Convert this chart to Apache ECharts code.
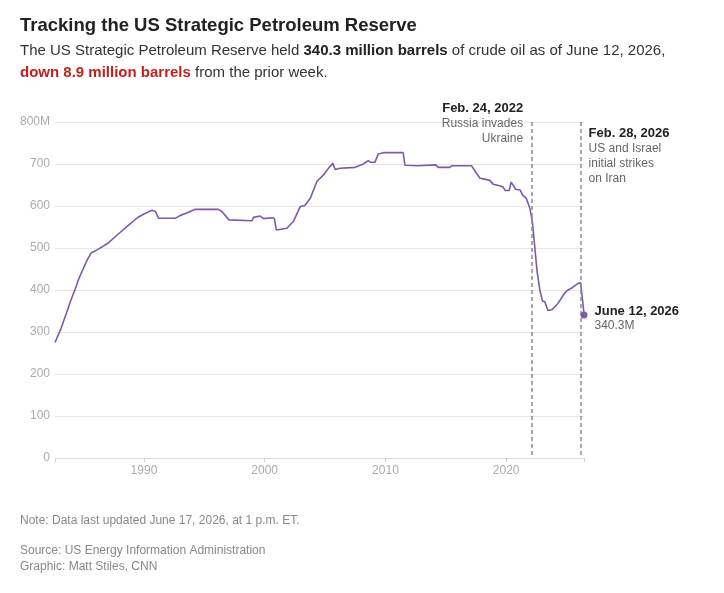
<!DOCTYPE html>
<html>
<head>
<meta charset="utf-8">
<script src="https://cdn.jsdelivr.net/npm/echarts@6/dist/echarts.min.js"></script>
<style>
  html, body { margin: 0; padding: 0; background: #fff; }
  #chart { width: 724px; height: 593px; }
</style>
</head>
<body>
<div id="chart"></div>
<script>
// values (million barrels)
const dates = [
  "1982-08-20", "1983-02-01", "1983-09-01", "1983-12-15", "1984-05-01", "1984-08-15",
  "1985-01-15", "1985-04-15", "1985-08-15", "1986-02-01", "1986-12-15", "1987-10-15",
  "1988-08-01", "1989-06-15", "1990-01-01", "1990-09-01", "1990-12-15", "1991-03-15",
  "1992-08-15", "1992-12-01", "1993-03-01", "1993-08-01", "1994-04-01", "1996-03-01",
  "1996-06-15", "1997-01-15", "1998-12-15", "1999-02-01", "1999-08-15", "1999-12-01",
  "2000-08-01", "2000-10-15", "2000-12-20", "2001-11-01", "2002-05-15", "2002-12-15",
  "2003-05-01", "2003-10-15", "2004-05-01", "2004-11-15", "2005-04-15", "2005-08-20",
  "2005-11-01", "2006-04-01", "2007-07-01", "2008-03-01", "2008-08-01", "2008-10-15",
  "2009-02-15", "2009-06-01", "2009-11-01", "2011-06-20", "2011-08-15", "2012-09-01",
  "2014-03-01", "2014-05-15", "2015-05-01", "2015-07-01", "2017-02-15", "2017-07-15",
  "2017-11-01", "2018-03-15", "2018-08-20", "2018-12-01", "2019-06-15", "2019-10-01",
  "2019-12-01", "2020-04-01", "2020-06-01", "2020-10-15", "2021-03-01", "2021-05-15",
  "2021-09-01", "2021-12-15", "2022-02-25", "2022-05-15", "2022-07-20", "2022-10-15",
  "2023-01-01", "2023-03-15", "2023-06-15", "2023-10-15", "2024-04-15", "2024-11-15",
  "2025-02-15", "2025-07-01", "2025-12-15", "2026-02-27", "2026-03-06", "2026-04-17",
  "2026-06-05", "2026-06-12"
];
const reserve = [
  275, 305, 352, 376, 404, 428,
  455, 471, 488, 495, 510, 531,
  551, 572, 581, 590, 587, 571,
  571, 576, 579, 584, 592, 592,
  587, 567, 565, 573, 576, 570,
  572, 571, 543, 547, 563, 599,
  601, 619, 659, 674, 690, 702,
  687, 690, 692, 700, 708, 704,
  704, 724, 727, 727, 697, 696,
  698, 692, 692, 696, 696, 678,
  666, 664, 661, 652, 648, 645,
  637, 637, 657, 640, 638, 626,
  618, 595, 567, 503, 447, 400,
  374, 372, 351, 353, 368, 394,
  400, 406, 416, 417, 415, 385,
  349.2, 340.3
];
const yearTicks = ["1990-01-01", "2000-01-01", "2010-01-01", "2020-01-01"];
const eventDates = ["2022-02-24", "2026-02-28"];
const eventTitles = ["Feb. 24, 2022", "Feb. 28, 2026"];
const eventNotes = ["Russia invades\nUkraine", "US and Israel\ninitial strikes\non Iran"];

const font = "'Liberation Sans', Arial, sans-serif";
const purple = "#7b5aa6";
const lastIdx = dates.length - 1;
const ts = (d) => +new Date(d);

const chart = echarts.init(document.getElementById("chart"));

const noteLabel = (title, note) =>
  "{t|" + title + "}\n{n|" + note.split("\n").join("}\n{n|") + "}";

const option = {
  backgroundColor: "#ffffff",
  textStyle: { fontFamily: font },
  animation: false,
  title: [
    {
      text: "Tracking the US Strategic Petroleum Reserve",
      left: 20,
      top: 16,
      padding: 0,
      textStyle: { fontFamily: font, fontSize: 18.5, fontWeight: "bold", color: "#222" },
    },
    {
      text:
        "The US Strategic Petroleum Reserve held {b|340.3 million barrels} of crude oil as of June 12, 2026,\n" +
        "{r|down 8.9 million barrels} from the prior week.",
      left: 20,
      top: 40,
      padding: 0,
      textStyle: {
        fontFamily: font,
        fontSize: 15,
        fontWeight: "normal",
        color: "#333",
        lineHeight: 22,
        rich: {
          b: { fontFamily: font, fontSize: 15, fontWeight: "bold", color: "#222", lineHeight: 22 },
          r: { fontFamily: font, fontSize: 15, fontWeight: "bold", color: "#c0201f", lineHeight: 22 },
        },
      },
    },
    {
      text: "Note: Data last updated June 17, 2026, at 1 p.m. ET.",
      left: 20,
      top: 515,
      padding: 0,
      textStyle: { fontFamily: font, fontSize: 12, fontWeight: "normal", color: "#888" },
    },
    {
      text: "Source: US Energy Information Administration\nGraphic: Matt Stiles, CNN",
      left: 20,
      top: 543,
      padding: 0,
      textStyle: { fontFamily: font, fontSize: 12, fontWeight: "normal", color: "#888", lineHeight: 16 },
    },
  ],
  grid: { left: 55, right: 140, top: 122, bottom: 135 },
  xAxis: {
    type: "value",
    min: ts(dates[0]),
    max: ts(dates[lastIdx]),
    axisLine: { show: true, onZero: false, lineStyle: { color: "#dcdcdc", width: 1 } },
    axisTick: {
      show: true,
      length: 4,
      lineStyle: { color: "#cfcfcf" },
      customValues: [dates[0]].concat(yearTicks, [dates[lastIdx]]).map(ts),
    },
    axisLabel: {
      color: "#aaa",
      fontSize: 12,
      fontFamily: font,
      margin: 7,
      customValues: yearTicks.map(ts),
      formatter: (v) => String(new Date(v).getFullYear()),
    },
    splitLine: { show: false },
  },
  yAxis: {
    type: "value",
    min: 0,
    max: 800,
    interval: 100,
    axisLine: { show: false },
    axisTick: { show: false },
    axisLabel: {
      color: "#aaa",
      fontSize: 12,
      fontFamily: font,
      margin: 5,
      formatter: (v) => (v === 800 ? "800M" : String(v)),
    },
    splitLine: { lineStyle: { color: "#e6e6e6", width: 1 } },
  },
  series: [
    {
      type: "line",
      data: dates.map((d, i) => [ts(d), reserve[i]]),
      showSymbol: false,
      lineStyle: { color: purple, width: 1.6 },
      itemStyle: { color: purple },
      markLine: {
        silent: true,
        symbol: "none",
        lineStyle: { color: "#8c8c8c", width: 1.5, type: [4, 3] },
        label: { show: false },
        data: eventDates.map((d) => [{ coord: [ts(d), 800] }, { coord: [ts(d), 6] }]),
      },
      markPoint: {
        silent: true,
        data: [
          {
            coord: [ts(eventDates[0]), 800],
            symbol: "circle",
            symbolSize: 0,
            label: {
              show: true,
              position: [-9, -21],
              align: "right",
              verticalAlign: "top",
              formatter: noteLabel(eventTitles[0], eventNotes[0]),
              rich: {
                t: { fontFamily: font, fontSize: 13, fontWeight: "bold", color: "#222", lineHeight: 15, align: "right" },
                n: { fontFamily: font, fontSize: 12, color: "#666", lineHeight: 15, align: "right" },
              },
            },
          },
          {
            coord: [ts(eventDates[1]), 800],
            symbol: "circle",
            symbolSize: 0,
            label: {
              show: true,
              position: [8, 4],
              align: "left",
              verticalAlign: "top",
              formatter: noteLabel(eventTitles[1], eventNotes[1]),
              rich: {
                t: { fontFamily: font, fontSize: 13, fontWeight: "bold", color: "#222", lineHeight: 15 },
                n: { fontFamily: font, fontSize: 12, color: "#666", lineHeight: 15 },
              },
            },
          },
          {
            coord: [ts(dates[lastIdx]), reserve[lastIdx]],
            symbol: "circle",
            symbolSize: 7,
            itemStyle: { color: purple },
            label: {
              show: true,
              position: [14, -8],
              align: "left",
              verticalAlign: "top",
              formatter: noteLabel("June 12, 2026", reserve[lastIdx] + "M"),
              rich: {
                t: { fontFamily: font, fontSize: 13, fontWeight: "bold", color: "#222", lineHeight: 15 },
                n: { fontFamily: font, fontSize: 12, color: "#666", lineHeight: 15 },
              },
            },
          },
        ],
      },
    },
  ],
};

option && chart.setOption(option);
window.addEventListener("resize", () => {
  chart.resize();
});
</script>
</body>
</html>
